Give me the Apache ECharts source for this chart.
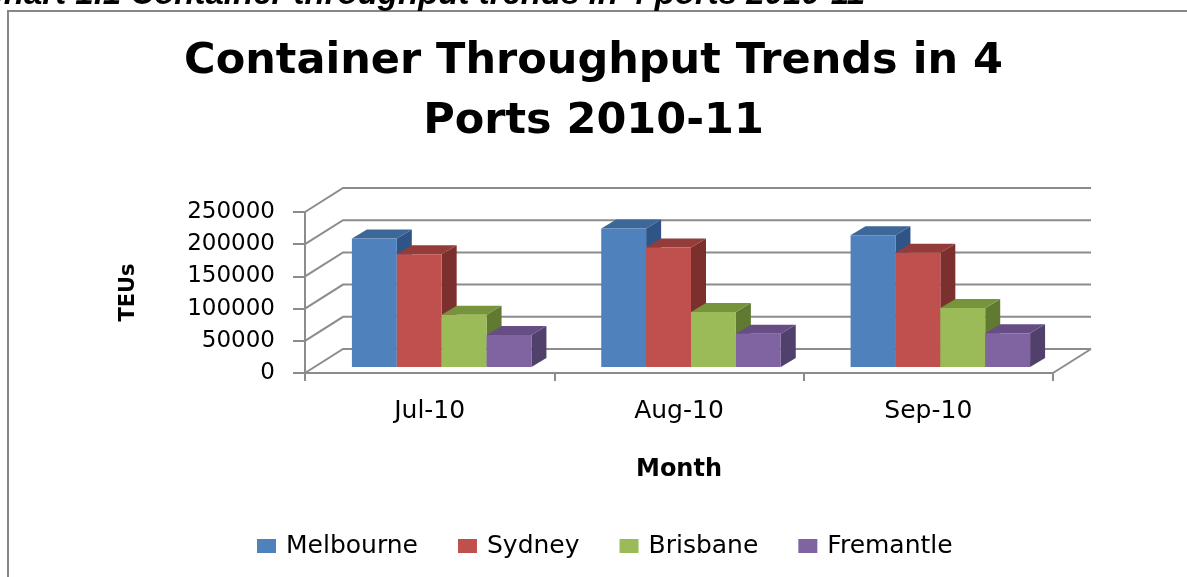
<!DOCTYPE html>
<html>
<head>
<meta charset="utf-8">
<script src="https://cdn.jsdelivr.net/npm/echarts@6/dist/echarts.min.js"></script>
<style>
html,body{margin:0;padding:0;background:#ffffff;}
#chart{width:1187px;height:577px;}
</style>
</head>
<body>
<div id="chart"></div>
<script>
// ---- data ----
const months = ['Jul-10', 'Aug-10', 'Sep-10'];
const ports = ['Melbourne', 'Sydney', 'Brisbane', 'Fremantle'];
const melbourne = [199500, 215000, 204500];
const sydney = [175000, 185500, 177500];
const brisbane = [81000, 85500, 91500];
const fremantle = [49500, 51500, 52500];
const yTicks = [0, 50000, 100000, 150000, 200000, 250000];

const portValues = [melbourne, sydney, brisbane, fremantle];

// ---- styling ----
const FONT = 'DejaVu Sans';
const faceColors = [
  { front: '#4F81BD', top: '#3C6798', side: '#2F5587' },
  { front: '#C0504D', top: '#943C3A', side: '#7B302E' },
  { front: '#9BBB59', top: '#77933C', side: '#617A31' },
  { front: '#8064A2', top: '#664E84', side: '#51406C' }
];
const GRID_GRAY = '#8c8c8c';
const WALL_DX = 38, WALL_DY = -24;          // back wall offset (perspective)
const BAR_DX = 12, BAR_DY = -6;             // bar front plane offset
const BAR_FRAC = 0.18;                      // bar width as share of category band
const SIDE_DX = 15, SIDE_DY = -9;           // bar depth

function renderFrame(params, api) {
  const cs = params.coordSys;
  const v = api.value(1);
  const y = api.coord([0, v])[1];
  const x0 = cs.x, x1 = cs.x + cs.width;
  const style = { stroke: GRID_GRAY, lineWidth: 2, fill: null };
  const children = [{
    type: 'polyline',
    shape: { points: [[x0, y], [x0 + WALL_DX, y + WALL_DY], [x1 + WALL_DX, y + WALL_DY]] },
    style: style
  }];
  if (v === 0) {
    children.push({
      type: 'line',
      shape: { x1: x1, y1: y, x2: x1 + WALL_DX, y2: y + WALL_DY },
      style: style
    });
  }
  return { type: 'group', children: children };
}

function makeBarRender(k) {
  return function (params, api) {
    const cat = api.value(0), v = api.value(1);
    const base = api.coord([cat, 0]);
    const topP = api.coord([cat, v]);
    const band = api.size([1, 0])[0];
    const w = band * BAR_FRAC;
    const xL = base[0] + BAR_DX + (k - ports.length / 2) * w;
    const xR = xL + w;
    const yB = base[1] + BAR_DY, yT = topP[1] + BAR_DY;
    const c = faceColors[k];
    return {
      type: 'group',
      children: [
        { type: 'polygon', shape: { points: [[xR, yT], [xR + SIDE_DX, yT + SIDE_DY], [xR + SIDE_DX, yB + SIDE_DY], [xR, yB]] }, style: { fill: c.side } },
        { type: 'polygon', shape: { points: [[xL, yT], [xR, yT], [xR + SIDE_DX, yT + SIDE_DY], [xL + SIDE_DX, yT + SIDE_DY]] }, style: { fill: c.top } },
        { type: 'rect', shape: { x: xL, y: yT, width: w, height: yB - yT }, style: { fill: c.front } }
      ]
    };
  };
}

const series = [{
  type: 'custom',
  name: 'frame',
  renderItem: renderFrame,
  data: yTicks.map(function (t) { return [0, t]; }),
  z: 1,
  silent: true
}];
ports.forEach(function (p, k) {
  series.push({
    type: 'custom',
    name: p,
    renderItem: makeBarRender(k),
    itemStyle: { color: faceColors[k].front },
    data: months.map(function (m, i) { return [i, portValues[k][i]]; }),
    z: 2
  });
});

const chart = echarts.init(document.getElementById('chart'), null, { renderer: 'canvas' });
chart.setOption({
  backgroundColor: '#ffffff',
  animation: false,
  title: {
    text: 'Container Throughput Trends in 4\nPorts 2010-11',
    left: 'center',
    top: 32,
    padding: [0, 0, 0, 20],
    textStyle: { fontFamily: FONT, fontWeight: 'bold', fontSize: 43, lineHeight: 60, color: '#000000' }
  },
  legend: {
    data: ports,
    left: 257,
    top: 533,
    padding: 0,
    itemWidth: 19,
    itemHeight: 14,
    itemGap: 40,
    icon: 'rect',
    textStyle: { fontFamily: FONT, fontSize: 25, lineHeight: 26, color: '#000000', padding: [0, 0, 0, 5] }
  },
  grid: { left: 305, right: 134, top: 212, bottom: 204 },
  xAxis: {
    type: 'category',
    data: months,
    name: 'Month',
    nameLocation: 'middle',
    nameGap: 85,
    nameTextStyle: { fontFamily: FONT, fontWeight: 'bold', fontSize: 24, lineHeight: 24, color: '#000000' },
    axisLine: { show: true, lineStyle: { color: GRID_GRAY, width: 2 } },
    axisTick: { show: true, length: 8, interval: 0, lineStyle: { color: GRID_GRAY, width: 2 } },
    axisLabel: { margin: 26, fontFamily: FONT, fontSize: 25, lineHeight: 24, color: '#000000' },
    splitLine: { show: false }
  },
  yAxis: {
    type: 'value',
    min: 0,
    max: 250000,
    interval: 50000,
    name: 'TEUs',
    nameLocation: 'middle',
    nameGap: 166,
    nameTextStyle: { fontFamily: FONT, fontWeight: 'bold', fontSize: 21, color: '#000000' },
    axisLine: { show: true, lineStyle: { color: GRID_GRAY, width: 2 } },
    axisTick: { show: true, length: 12, lineStyle: { color: GRID_GRAY, width: 2 } },
    axisLabel: {
      margin: 30, fontFamily: FONT, fontSize: 23, color: '#000000',
      formatter: function (v) { return String(v); }
    },
    splitLine: { show: false }
  },
  graphic: [
    {
      type: 'rect',
      silent: true,
      shape: { x: 8, y: 11, width: 1220, height: 620 },
      style: { fill: null, stroke: '#878787', lineWidth: 2 },
      z: 0
    },
    {
      type: 'text',
      silent: true,
      style: {
        text: 'Chart 1.1 Container throughput trends in 4 ports 2010-11',
        x: -20,
        y: -5,
        verticalAlign: 'middle',
        font: 'italic bold 33px "Liberation Sans"',
        fill: '#000000'
      }
    }
  ],
  series: series
});
</script>
</body>
</html>
